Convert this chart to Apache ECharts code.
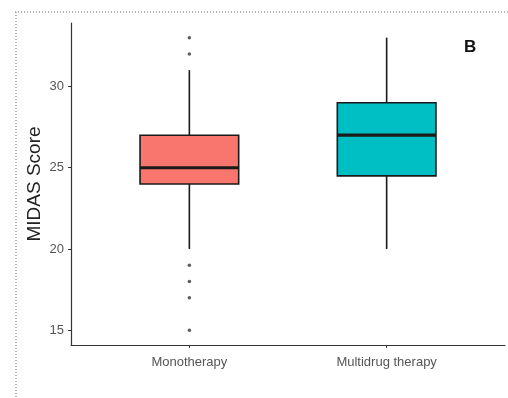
<!DOCTYPE html>
<html>
<head>
<meta charset="utf-8">
<script src="https://cdn.jsdelivr.net/npm/echarts@6/dist/echarts.min.js"></script>
<style>html,body{margin:0;padding:0;background:#fff;}#c{width:508px;height:398px;}</style>
</head>
<body>
<div id="c"></div>
<script>
var categories = ['Monotherapy', 'Multidrug therapy'];
// [lower whisker, Q1, median, Q3, upper whisker]
var monoStats = [20, 24, 25, 27, 31];
var multiStats = [20, 24.5, 27, 29, 33];
var monoOutliers = [33, 32, 19, 18, 17, 15];
var multiOutliers = [];
var yTicks = [15, 20, 25, 30];
var fills = ['#F8766D', '#00BFC4'];

var statsList = [monoStats, multiStats];
var boxData = statsList.map(function (s, i) { return [i + 1].concat(s); });
var outlierData = [];
monoOutliers.forEach(function (v) { outlierData.push([1, v]); });
multiOutliers.forEach(function (v) { outlierData.push([2, v]); });

var chart = echarts.init(document.getElementById('c'), null, { renderer: 'canvas' });
var font = 'Liberation Sans, Arial, sans-serif';
chart.setOption({
  animation: false,
  backgroundColor: '#fff',
  title: {
    text: 'B', left: 459, top: 34,
    textStyle: { fontSize: 17, fontWeight: 'bold', color: '#111', fontFamily: font }
  },
  grid: { left: 71, right: 3, top: 23, bottom: 53, containLabel: false },
  xAxis: {
    type: 'value', min: 0.4, max: 2.6,
    splitLine: { show: false },
    axisLine: { show: true, lineStyle: { color: '#333', width: 1.2 } },
    axisTick: { show: true, customValues: [1, 2], length: 3, lineStyle: { color: '#333' } },
    axisLabel: {
      customValues: [1, 2], margin: 11,
      formatter: function (v) { return categories[Math.round(v) - 1] || ''; },
      color: '#555', fontSize: 13, fontFamily: font
    }
  },
  yAxis: {
    type: 'value', min: 14.1, max: 33.9,
    name: 'MIDAS Score', nameLocation: 'middle', nameGap: 27, nameMoveOverlap: false,
    nameTextStyle: { fontSize: 19, color: '#222', fontFamily: font },
    splitLine: { show: false },
    axisLine: { show: true, lineStyle: { color: '#333', width: 1.2 } },
    axisTick: { show: true, customValues: yTicks, length: 3, lineStyle: { color: '#333' } },
    axisLabel: { customValues: yTicks, margin: 7, color: '#555', fontSize: 13, fontFamily: font }
  },
  series: [
    {
      type: 'custom',
      data: boxData,
      encode: { x: 0, y: [1, 2, 3, 4, 5] },
      renderItem: function (params, api) {
        var x = api.value(0);
        var lo = api.coord([x, api.value(1)]);
        var q1 = api.coord([x, api.value(2)]);
        var med = api.coord([x, api.value(3)]);
        var q3 = api.coord([x, api.value(4)]);
        var hi = api.coord([x, api.value(5)]);
        var left = api.coord([x - 0.25, api.value(3)])[0];
        var right = api.coord([x + 0.25, api.value(3)])[0];
        var cx = lo[0];
        var idx = params.dataIndex;
        return {
          type: 'group',
          children: [
            { type: 'line', shape: { x1: cx, y1: lo[1], x2: cx, y2: q1[1] }, style: { stroke: '#1a1a1a', lineWidth: 1.6 } },
            { type: 'line', shape: { x1: cx, y1: q3[1], x2: cx, y2: hi[1] }, style: { stroke: '#1a1a1a', lineWidth: 1.6 } },
            { type: 'rect', shape: { x: left, y: q3[1], width: right - left, height: q1[1] - q3[1] }, style: { fill: fills[idx], stroke: '#1a1a1a', lineWidth: 1.6 } },
            { type: 'line', shape: { x1: left, y1: med[1], x2: right, y2: med[1] }, style: { stroke: '#1a1a1a', lineWidth: 3.2 } }
          ]
        };
      },
      z: 2
    },
    {
      type: 'scatter',
      data: outlierData,
      symbol: 'circle', symbolSize: 3.5,
      itemStyle: { color: '#333' },
      z: 3
    }
  ],
  graphic: [
    { type: 'line', shape: { x1: 15, y1: 12, x2: 508, y2: 12 }, style: { stroke: '#999', lineWidth: 1.5, lineDash: [1, 2] } },
    { type: 'line', shape: { x1: 16, y1: 12, x2: 16, y2: 398 }, style: { stroke: '#999', lineWidth: 1.5, lineDash: [1, 2] } }
  ]
});
</script>
</body>
</html>
